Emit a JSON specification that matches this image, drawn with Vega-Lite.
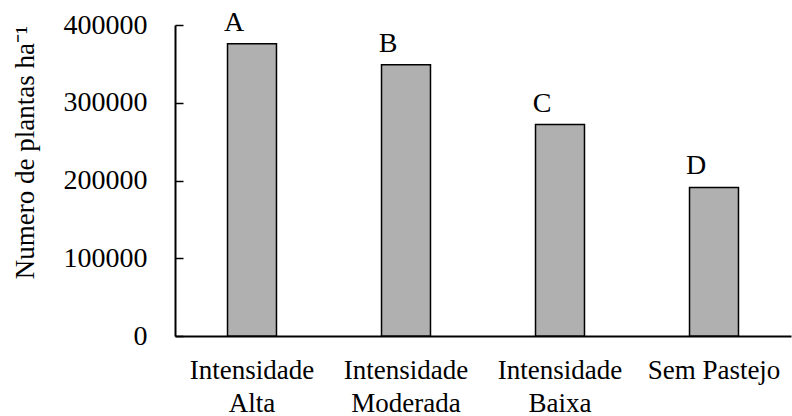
{
  "$schema": "https://vega.github.io/schema/vega-lite/v6.json",
  "autosize": "none",
  "padding": {"left": 175, "top": 25, "right": 1, "bottom": 80},
  "width": 616,
  "height": 311,
  "background": "white",
  "config": {
    "view": {"stroke": null},
    "font": "Liberation Serif",
    "axis": {"grid": false}
  },
  "data": {
    "values": [
      {"tratamento": "Intensidade Alta", "plantas": 376000, "letra": "A"},
      {"tratamento": "Intensidade Moderada", "plantas": 349000, "letra": "B"},
      {"tratamento": "Intensidade Baixa", "plantas": 272000, "letra": "C"},
      {"tratamento": "Sem Pastejo", "plantas": 191000, "letra": "D"}
    ]
  },
  "encoding": {
    "x": {
      "field": "tratamento",
      "type": "nominal",
      "sort": null,
      "scale": {"paddingInner": 0.682, "paddingOuter": 0.341},
      "axis": {
        "title": null,
        "labelAngle": 0,
        "labelFont": "Liberation Serif",
        "labelColor": "black",
        "labelFontSize": 27,
        "labelExpr": "datum.value == 'Sem Pastejo' ? ['Sem Pastejo'] : ['Intensidade', slice(datum.value, 12)]",
        "labelLineHeight": 33,
        "labelPadding": 21,
        "ticks": false,
        "domainColor": "black",
        "domainWidth": 2,
        "labelBound": false,
        "labelOverlap": false
      }
    }
  },
  "layer": [
    {
      "mark": {"type": "bar", "fill": "#b0b0b0", "stroke": "black", "strokeWidth": 1.5},
      "encoding": {
        "y": {
          "field": "plantas",
          "type": "quantitative",
          "scale": {"domain": [0, 400000], "nice": false},
          "axis": {
            "orient": "left",
            "offset": -8,
            "domain": false,
            "title": "Numero de plantas ha⁻¹",
            "titleFont": "Liberation Serif",
            "titleColor": "black",
            "titleFontSize": 27,
            "titleFontWeight": "normal",
            "titlePadding": 24,
            "titleY": 127,
            "values": [0, 100000, 200000, 300000, 400000],
            "format": "d",
            "labelFont": "Liberation Serif",
            "labelColor": "black",
            "labelFontSize": 28,
            "ticks": true,
            "tickColor": "black",
            "tickSize": 8,
            "tickWidth": 1.5,
            "labelPadding": 28,
            "labelFlush": false
          }
        }
      }
    },
    {
      "mark": {"type": "text", "baseline": "bottom", "dy": -7, "dx": -18, "fontSize": 28, "font": "Liberation Serif", "color": "black"},
      "encoding": {
        "y": {
          "field": "plantas",
          "type": "quantitative",
          "axis": {"orient": "left", "domain": true, "domainColor": "black", "domainWidth": 2, "ticks": false, "labels": false, "title": null, "grid": false}
        },
        "text": {"field": "letra"}
      }
    }
  ],
  "resolve": {"axis": {"y": "independent"}}
}
